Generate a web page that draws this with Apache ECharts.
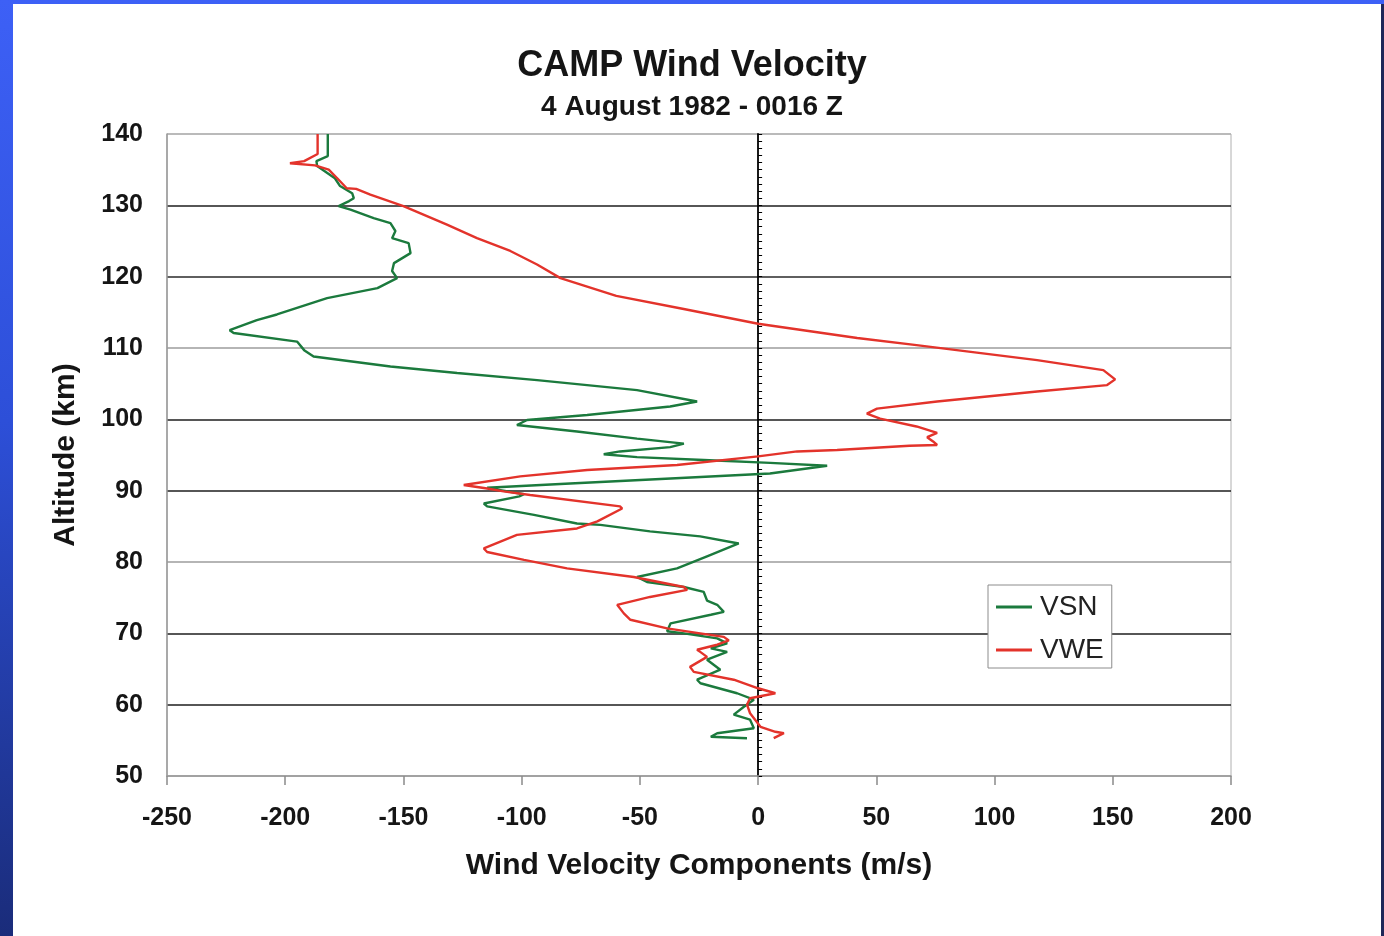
<!DOCTYPE html>
<html>
<head>
<meta charset="utf-8">
<title>CAMP Wind Velocity</title>
<script src="https://cdn.jsdelivr.net/npm/echarts@6/dist/echarts.min.js"></script>
<style>
  html, body { margin: 0; padding: 0; width: 1384px; height: 936px; overflow: hidden;
    background: linear-gradient(180deg, #3d60f6 0%, #2d4fd8 45%, #1a2c7a 100%); }
  #panel { position: absolute; left: 13px; top: 4px; width: 1368px; height: 932px; background: #ffffff; }
  #edge { position: absolute; left: 1381px; top: 4px; width: 3px; height: 932px; background: #1e2758; }
  #chart { position: absolute; left: 0; top: 0; width: 1384px; height: 936px; }
</style>
</head>
<body>
<div id="panel"></div>
<div id="edge"></div>
<div id="chart"></div>
<script>
// Axis ranges (m/s across, km up)
const velocityRange = [-250, 200];
const altitudeRange = [50, 140];

// South-north wind component profile, listed from the top down
const vsnAltitude = [140, 136.9, 136.2, 135.5, 133.8, 132.7, 131.7, 131.0, 130.6, 129.9, 129.4, 128.2, 127.5,
  126.4, 125.4, 124.7, 123.3, 121.9, 120.8, 119.8, 118.4, 117.0, 114.7, 113.9, 112.5, 112.1, 110.9, 109.7,
  108.8, 107.4, 106.5, 105.5, 104.1, 102.5, 101.8, 100.6, 99.9, 99.2, 98.3, 97.3, 96.6, 96.1, 95.5, 95.1,
  94.7, 94.3, 93.9, 93.5, 92.4, 91.7, 91.0, 90.4, 89.5, 89.2, 88.2, 87.8, 86.6, 85.4, 85.2, 84.3, 83.6,
  82.6, 80.8, 79.1, 77.9, 77.2, 76.5, 75.8, 74.6, 74.0, 73.0, 72.6, 71.4, 70.3, 70.0, 69.3, 68.6, 67.9,
  67.4, 66.3, 64.9, 63.5, 63.0, 61.6, 60.7, 59.7, 58.6, 57.9, 56.7, 56.0, 55.5, 55.3];
const vsnVelocity = [-182, -182, -186.8, -186.5, -179, -176.8, -171.7, -171, -173, -177.4, -172.4, -162.6, -155.5,
  -153.4, -154.8, -147.8, -147, -154, -154.8, -152.7, -161, -182.3, -203.5, -212, -223.5, -221.8, -195, -192,
  -188, -155.5, -127.3, -93.5, -51.2, -25.8, -37.2, -72.3, -97.7, -102, -76.6, -51.2, -31.4, -37.2, -58.4, -65.3,
  -51.2, -23, 5.1, 29.2, 5, -37, -79.5, -114.6, -99, -101, -116, -114.6, -94.8, -76.6, -66.7, -45.7, -24.5,
  -8.2, -21.6, -34.3, -51.2, -47, -31.4, -23, -21.6, -17.3, -14.5, -20, -37, -38.5, -31.4, -17.3, -13.1, -20,
  -13.1, -21.6, -16, -25.8, -24.4, -8.9, -1.8, -6, -10.3, -3.4, -1.8, -17.3, -20, -4.7];

// West-east wind component profile, listed from the top down
const vweAltitude = [140, 137.2, 136.2, 135.9, 135.6, 135.0, 133.8, 132.4, 132.3, 131.5, 129.9, 127.3, 125.4,
  123.6, 121.7, 119.8, 117.3, 115.5, 113.4, 111.4, 110.4, 109.7, 108.3, 106.9, 105.6, 104.8, 103.9, 102.5,
  101.5, 100.8, 100.1, 99.0, 98.1, 97.5, 96.9, 96.4, 96.3, 95.7, 95.5, 94.8, 93.6, 92.9, 92.0, 90.8, 90.3,
  89.9, 89.4, 87.8, 87.5, 85.7, 84.7, 83.8, 81.9, 81.4, 80.3, 79.1, 77.9, 76.5, 76.1, 75.1, 74.0, 72.8,
  71.9, 70.7, 70.0, 69.5, 69.0, 68.4, 67.7, 67.4, 66.7, 65.3, 64.6, 63.5, 62.3, 61.6, 60.9, 60.0, 58.8,
  56.9, 56.2, 56.0, 55.3];
const vweVelocity = [-186.3, -186.3, -192, -198, -187.4, -181.6, -178, -174, -170, -164, -150, -131.6, -118.9,
  -104.8, -93.5, -83.6, -60, -32, 0, 41.9, 67, 84, 118, 146, 151, 147.6, 118, 75.7,
  50.3, 46, 51.6, 67, 75.7, 71.5, 74, 75.7, 64, 33.4, 16.5, 0, -34.3, -72.3, -100.6, -124.5, -114.6,
  -107.6, -96.4, -58.4, -57.5, -68, -76.6, -102, -116, -114.6, -99, -80.8, -52.6, -31.4, -30, -45.7, -59.6, -56.8,
  -54, -38.5, -24.5, -14.5, -12.4, -17.3, -25.8, -24.5, -21.6, -28.8, -27.2, -10.3, 0, 7.3, -3.4, -4.7, -3.4,
  1, 7.3, 10.9, 6.6];

const seriesNames = ['VSN', 'VWE'];
const seriesColors = ['#1b7a3d', '#e3332b'];

const FONT = '"Liberation Sans", Arial, Helvetica, sans-serif';

function pairs(velocity, altitude) {
  return velocity.map((v, i) => [v, altitude[i]]);
}

const chart = echarts.init(document.getElementById('chart'), null, { renderer: 'canvas' });

chart.setOption({
  animation: false,
  title: [
    { text: 'CAMP Wind Velocity', left: 'center', top: 43,
      textStyle: { fontFamily: FONT, fontSize: 36, fontWeight: 'bold', color: '#151515' } },
    { text: '4 August 1982 - 0016 Z', left: 'center', top: 88,
      textStyle: { fontFamily: FONT, fontSize: 28, fontWeight: 'bold', color: '#151515' } }
  ],
  legend: {
    orient: 'vertical', left: 988, top: 585,
    padding: [8, 8, 4, 8], itemGap: 15, itemWidth: 36, itemHeight: 3, icon: 'rect',
    backgroundColor: '#ffffff', borderColor: '#8c8c8c', borderWidth: 1,
    textStyle: { fontFamily: FONT, fontSize: 28, color: '#222', padding: [0, 0, 0, 3] },
    data: seriesNames
  },
  grid: { left: 167, right: 153, top: 134, bottom: 160, show: true,
    borderColor: '#b0b0b0', borderWidth: 1, backgroundColor: 'transparent' },
  xAxis: {
    type: 'value', min: velocityRange[0], max: velocityRange[1], interval: 50,
    name: 'Wind Velocity Components (m/s)', nameLocation: 'middle', nameGap: 75,
    nameTextStyle: { fontFamily: FONT, fontSize: 30, fontWeight: 'bold', color: '#151515' },
    axisLine: { onZero: false, lineStyle: { color: '#9a9a9a', width: 1.5 } },
    axisTick: { show: true, length: 9, lineStyle: { color: '#8a8a8a', width: 1.5 } },
    axisLabel: { margin: 30, fontFamily: FONT, fontSize: 25, fontWeight: 'bold', color: '#151515' },
    splitLine: { show: false }
  },
  yAxis: [
    {
      type: 'value', position: 'left', min: altitudeRange[0], max: altitudeRange[1], interval: 10,
      name: 'Altitude (km)', nameLocation: 'middle', nameGap: 86, nameRotate: 90,
      nameTextStyle: { fontFamily: FONT, fontSize: 30, fontWeight: 'bold', color: '#151515' },
      axisLine: { onZero: false, lineStyle: { color: '#9a9a9a', width: 1.5 } },
      axisTick: { show: false },
      axisLabel: { margin: 24, fontFamily: FONT, fontSize: 25, fontWeight: 'bold', color: '#151515' },
      splitLine: { show: true, lineStyle: { width: 1.5,
        color: ['#b0b0b0', '#1e1e1e', '#1e1e1e', '#9c9c9c', '#1e1e1e', '#1e1e1e', '#9c9c9c', '#2a2a2a', '#1e1e1e', '#b0b0b0'] } }
    },
    {
      // zero-velocity axis with 1 km minor ticks
      type: 'value', position: 'left', min: altitudeRange[0], max: altitudeRange[1], interval: 1,
      axisLine: { show: true, onZero: true, lineStyle: { color: '#000', width: 1.8 } },
      axisTick: { show: true, inside: true, length: 4, lineStyle: { color: '#000', width: 1 } },
      axisLabel: { show: false },
      splitLine: { show: false }
    }
  ],
  series: [
    { name: seriesNames[0], type: 'line', xAxisIndex: 0, yAxisIndex: 0,
      data: pairs(vsnVelocity, vsnAltitude), showSymbol: false, symbol: 'none',
      lineStyle: { color: seriesColors[0], width: 2.4 }, itemStyle: { color: seriesColors[0] }, z: 3 },
    { name: seriesNames[1], type: 'line', xAxisIndex: 0, yAxisIndex: 0,
      data: pairs(vweVelocity, vweAltitude), showSymbol: false, symbol: 'none',
      lineStyle: { color: seriesColors[1], width: 2.4 }, itemStyle: { color: seriesColors[1] }, z: 4 }
  ]
});
</script>
</body>
</html>
